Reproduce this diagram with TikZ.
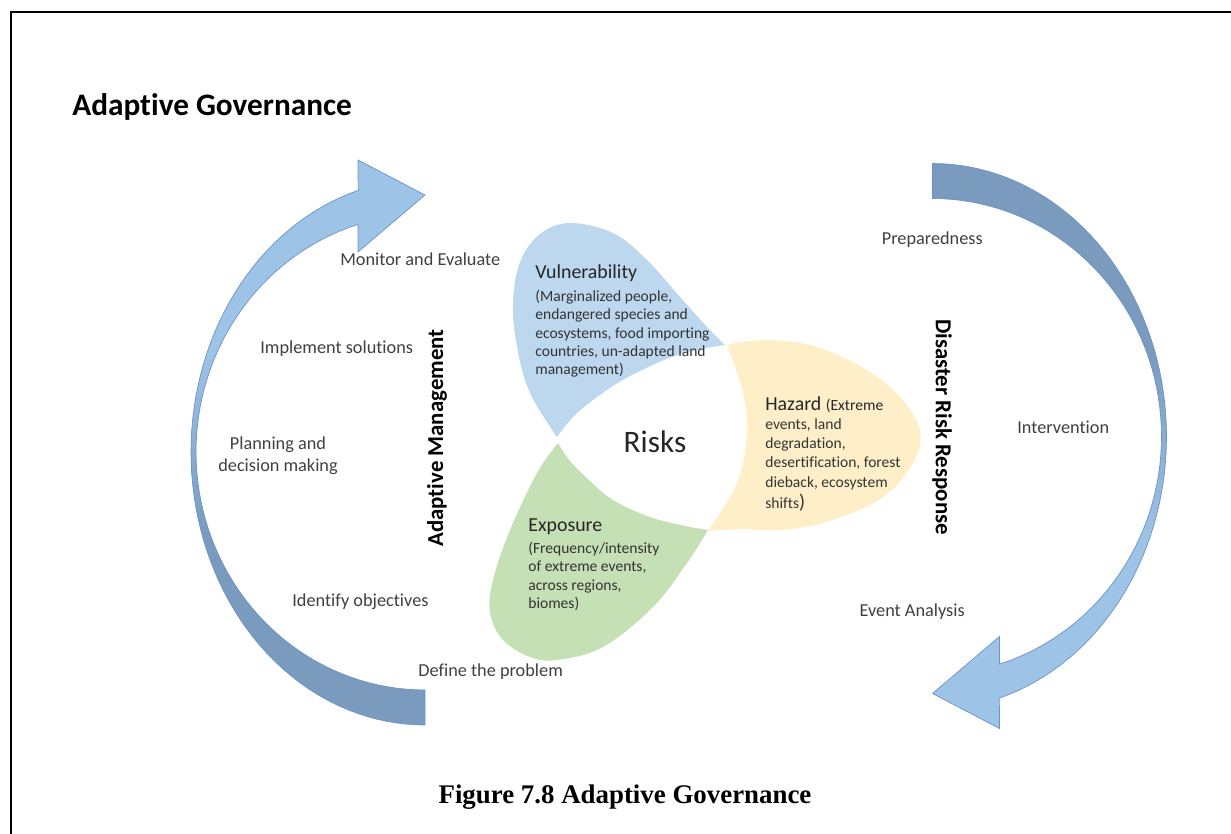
\documentclass[tikz,border=0pt]{standalone}
\usepackage{fontspec}
\setmainfont{Carlito}[Ligatures=NoCommon]
\newfontfamily\capfont{Liberation Serif}
\usepackage{xcolor}
\usepackage{tikz}
\usetikzlibrary{positioning}

\definecolor{armlight}{HTML}{9DC3E6}
\definecolor{armdark}{HTML}{7A9BBE}
\definecolor{armedge}{HTML}{6C93C9}
\definecolor{vulnblue}{HTML}{BDD7EE}
\definecolor{hazyellow}{HTML}{FEEFC8}
\definecolor{expgreen}{HTML}{C5E0B4}
\definecolor{labelgray}{HTML}{404040}

\pgfdeclareverticalshading{mgmtshade}{100bp}{color(0bp)=(armdark); color(42bp)=(armdark); color(58bp)=(armlight); color(100bp)=(armlight)}
\pgfdeclareverticalshading{drrshade}{100bp}{color(0bp)=(armlight); color(42bp)=(armlight); color(58bp)=(armdark); color(100bp)=(armdark)}

% curved band with head: #1,#2 centre of the arcs, #3 = 1 (left) or -1 (right)
\newcommand{\bandpath}[3]{%
  plot[domain=90:253.4,samples=70] ({#1+(#3)*234*cos(\x)},{#2+(#3)*273*sin(\x)})
  -- ({#1-(#3)*67},{#2-(#3)*292}) -- ({#1},{#2-(#3)*257}) -- ({#1-(#3)*67},{#2-(#3)*200})
  -- plot[domain=253:90,samples=70] ({#1+(#3)*229*cos(\x)},{#2+(#3)*238*sin(\x)}) -- cycle}

\begin{document}
\begin{tikzpicture}[
    x=0.02cm, y=-0.02cm,
    step label/.style={inner sep=0pt, text=labelgray, font=\fontsize{10.4}{12.5}\selectfont},
    side title/.style={inner sep=0pt, font=\bfseries\fontsize{13}{15}\selectfont},
    petal head/.style={inner sep=0pt, anchor=west, text=black!85, font=\fontsize{11.3}{13.5}\selectfont},
    petal text/.style={inner sep=0pt, anchor=north west, align=left, text=black!80, font=\fontsize{8.85}{10.4}\selectfont},
    band/.style={shade, draw=armedge, line width=0.4pt}
]
\useasboundingbox (0,0) rectangle (1231,834);
\draw[line width=1.1pt] (11,834) -- (11,12) -- (1231,12);

% the two curved arrows
\path[band, shading=mgmtshade] \bandpath{425}{452}{1};
\path[band, shading=drrshade] \bandpath{932.5}{436.5}{-1};

% the three petals round Risks
\fill[vulnblue] plot[smooth, tension=0.6] coordinates {(557,437) (530,393) (517,347) (513,303) (520,262) (540,234) (570,223) (613,233) (647,260) (680,297) (708,328) (725,345)}
  -- plot[smooth, tension=0.6] coordinates {(725,345) (680,354) (630,376) (597,397) (573,417) (557,437)} -- cycle;
\fill[hazyellow] plot[smooth, tension=0.6] coordinates {(727,345) (767,340) (817,347) (867,370) (900,397) (920,430) (913,463) (883,497) (833,520) (783,530) (743,529) (708,531)}
  -- plot[smooth, tension=0.6] coordinates {(708,531) (737,483) (747,433) (743,393) (727,345)} -- cycle;
\fill[expgreen] plot[smooth, tension=0.6] coordinates {(558,443) (537,473) (510,530) (493,580) (490,613) (503,640) (530,657) (557,660) (603,647) (653,607) (687,563) (708,530)}
  -- plot[smooth, tension=0.6] coordinates {(708,530) (680,525) (647,516) (613,500) (590,481) (570,461) (558,443)} -- cycle;

\node[inner sep=0pt, anchor=west, font=\bfseries\fontsize{17.8}{20}\selectfont] (title) at (72,107) {Adaptive Governance};
\node[inner sep=0pt, text=black!85, font=\fontsize{17.8}{20}\selectfont] (risks) at (655,442) {Risks};

\node[petal head] (vulnhead) at (535,273) {Vulnerability};
\node[petal text] (vulntext) at (535,290) {(Marginalized people,\\endangered species and\\ecosystems, food importing\\countries, un-adapted land\\management)};
\node[petal head] (hazhead) at (765,405) {Hazard {\fontsize{8.85}{10.4}\selectfont(Extreme}};
\node[petal text, font=\fontsize{8.85}{11}\selectfont] (haztext) at (765,418) {events, land\\degradation,\\desertification, forest\\dieback, ecosystem\\[1pt]shifts{\fontsize{11.3}{13}\selectfont)}};
\node[petal head] (exphead) at (528,527) {Exposure};
\node[petal text] (exptext) at (528,542) {(Frequency/intensity\\of extreme events,\\across regions,\\biomes)};

\node[step label, anchor=west] (monitor) at (340,259) {Monitor and Evaluate};
\node[step label, anchor=west] (implement) at (260,349) {Implement solutions};
\node[step label, align=center] (planning) at (278,456) {Planning and\\decision making};
\node[step label, anchor=west] (objectives) at (292,602) {Identify objectives};
\node[step label, anchor=west] (define) at (418,672) {Define the problem};
\node[step label, anchor=east] (prepared) at (983,240) {Preparedness};
\node[step label, anchor=west] (intervene) at (1017,427) {Intervention};
\node[step label, anchor=east] (analysis) at (965,612) {Event Analysis};

\node[side title, rotate=90] (adaptmgmt) at (437,438) {Adaptive Management};
\node[side title, rotate=-90] (drr) at (942,427) {Disaster Risk Response};

\node[inner sep=0pt, font=\capfont\bfseries\fontsize{15.3}{18}\selectfont] (caption) at (625,797) {Figure 7.8 Adaptive Governance};
\end{tikzpicture}
\end{document}
